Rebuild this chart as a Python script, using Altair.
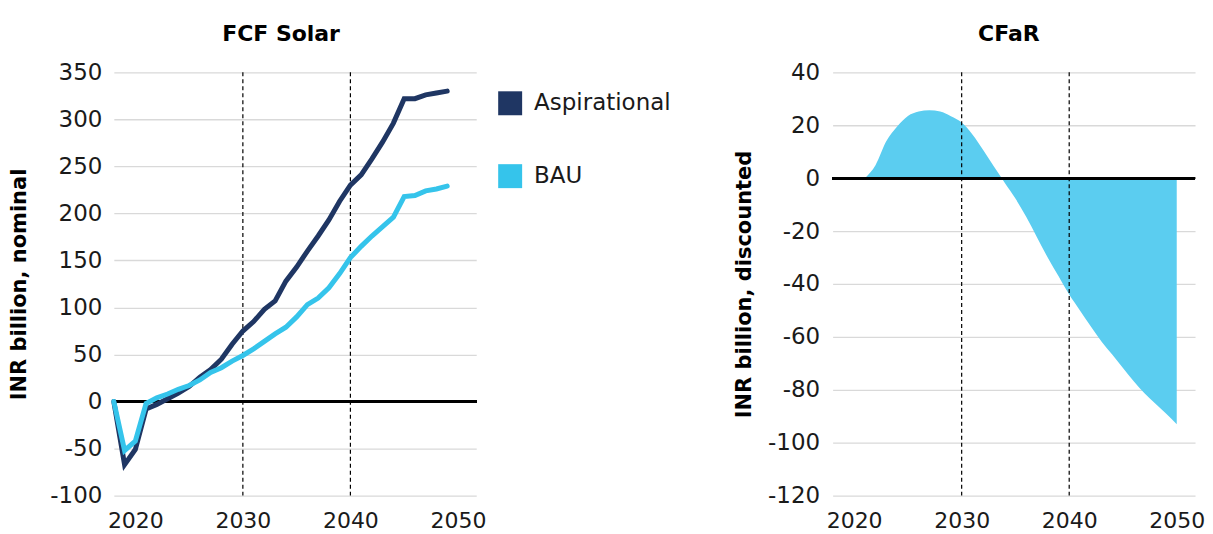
import altair as alt
import pandas as pd

# ---------------- data ----------------
years = list(range(2018, 2050))
aspirational = [0, -67, -51, -8, -3, 3, 9, 16, 26, 34, 45, 61, 75, 85, 98, 107,
                128, 143, 160, 176, 193, 213, 230, 241, 258, 276, 296, 322, 322,
                326, 328, 330]
bau = [0, -52, -42, -2, 4, 8, 13, 17, 23, 31, 36, 43, 49, 56, 64, 72,
       79, 90, 103, 110, 121, 136, 153, 165, 176, 186, 196, 218, 219,
       224, 226, 229]

cfar_years = list(range(2021, 2051))
cfar = [0, 5, 14, 19.5, 23.5, 25.2, 25.7, 25.2, 23.4, 21, 16.5, 10.6, 4.4,
        -1.7, -7.7, -14.6, -22.3, -30, -37, -44, -50, -56, -61.7, -66.7,
        -71.8, -76.8, -81.3, -85.2, -89, -93]

marker_years = [2030, 2040]
x_ticks = [2020, 2030, 2040, 2050]
fcf_ticks = list(range(-100, 351, 50))
cfar_ticks = list(range(-120, 41, 20))
series_names = ["Aspirational", "BAU"]
series_colors = ["#1F3663", "#35C4EB"]
area_color = "#5BCDF0"

# ---------------- tables ----------------
lines_df = pd.DataFrame({
    "year": years * 2,
    "value": aspirational + bau,
    "scenario": [series_names[0]] * len(years) + [series_names[1]] * len(years),
})
cfar_df = pd.DataFrame({"year": cfar_years, "value": cfar})
markers_df = pd.DataFrame({"year": marker_years})

FONT = "DejaVu Sans"

x_scale = alt.Scale(domain=[2018, 2051.7], nice=False, zero=False)
x_axis = alt.Axis(values=x_ticks, format="d", title=None, grid=False,
                  labelPadding=15, labelFlush=False, labelFontSize=22)


def y_axis(title, ticks, title_pad, label_pad):
    return alt.Axis(values=ticks, title=title, grid=True, labelPadding=label_pad,
                    titlePadding=title_pad, labelExpr="'' + datum.value")


# ---------------- left: FCF Solar ----------------
fcf_y_scale = alt.Scale(domain=[-100, 350], nice=False, zero=False)
fcf_y_axis = y_axis("INR billion, nominal", fcf_ticks, 20, 12)

fcf_zero = alt.Chart(lines_df).mark_rule(color="#000000", strokeWidth=2).encode(
    y=alt.datum(0, scale=fcf_y_scale, axis=fcf_y_axis)
)
fcf_markers = alt.Chart(markers_df).mark_rule(
    color="#000000", strokeWidth=1.2, strokeDash=[4, 3]
).encode(x=alt.X("year:Q", scale=x_scale, axis=x_axis))

fcf_lines = alt.Chart(lines_df).mark_line(strokeWidth=5, strokeCap="round").encode(
    x=alt.X("year:Q", scale=x_scale, axis=x_axis),
    y=alt.Y("value:Q", scale=fcf_y_scale, axis=fcf_y_axis),
    color=alt.Color(
        "scenario:N",
        scale=alt.Scale(domain=series_names, range=series_colors),
        legend=alt.Legend(
            title=None, orient="none", legendX=385, legendY=19,
            symbolType="square", symbolSize=16, symbolStrokeWidth=20,
            labelFont=FONT, labelFontSize=23, labelColor="#1a1a1a",
            labelOffset=12, rowPadding=-11, padding=0,
        ),
    ),
)

left = alt.layer(fcf_zero, fcf_markers, fcf_lines).properties(
    width=363, height=424,
    title=alt.TitleParams("FCF Solar", dx=-14),
)

# ---------------- right: CFaR ----------------
cfar_y_scale = alt.Scale(domain=[-120, 40], nice=False, zero=False)
cfar_y_axis = y_axis("INR billion, discounted", cfar_ticks, 13, 13)

cfar_area = alt.Chart(cfar_df).mark_area(color=area_color, interpolate="monotone").encode(
    x=alt.X("year:Q", scale=x_scale, axis=x_axis),
    y=alt.Y("value:Q", scale=cfar_y_scale, axis=cfar_y_axis),
)
cfar_markers = alt.Chart(markers_df).mark_rule(
    color="#000000", strokeWidth=1.2, strokeDash=[4, 3]
).encode(x=alt.X("year:Q", scale=x_scale, axis=x_axis))
cfar_zero = alt.Chart(cfar_df).mark_rule(color="#000000", strokeWidth=2.5).encode(
    y=alt.datum(0, scale=cfar_y_scale, axis=cfar_y_axis)
)

right = alt.layer(cfar_area, cfar_markers, cfar_zero).properties(
    width=363, height=424,
    title=alt.TitleParams("CFaR", dx=-5),
)

chart = (
    alt.hconcat(left, right, spacing=62)
    .resolve_legend(color="independent")
    .properties(padding={"top": 15, "left": 0, "right": 0, "bottom": 0})
    .configure_view(stroke=None)
    .configure_axis(
        domain=False, ticks=False,
        labelFont=FONT, labelFontSize=23, labelColor="#1a1a1a",
        titleFont=FONT, titleFontSize=21, titleFontWeight="bold", titleColor="#000000",
        gridColor="#d9d9d9", gridWidth=1.3,
    )
    .configure_title(font=FONT, fontSize=22, fontWeight="bold", color="#000000",
                     anchor="middle", offset=15)
)

chart.save("out.html", embed_options={"renderer": "svg", "actions": False})
